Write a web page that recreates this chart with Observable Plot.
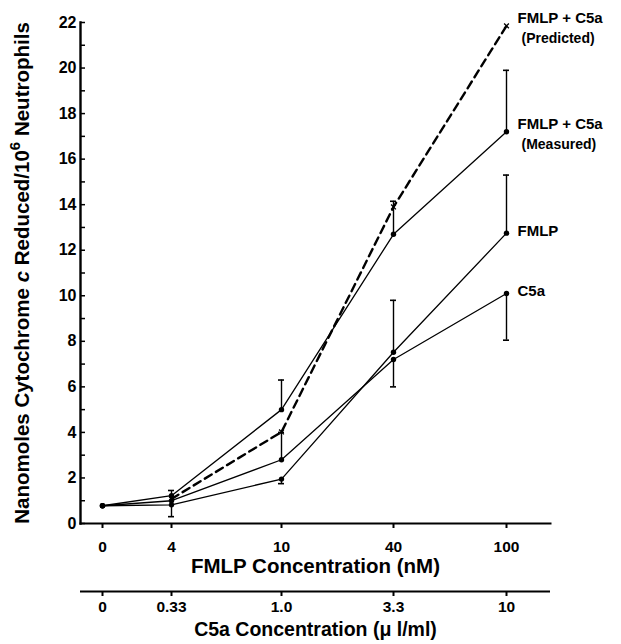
<!DOCTYPE html>
<html>
<head>
<meta charset="utf-8">
<script src="https://cdn.jsdelivr.net/npm/d3@7"></script>
<script src="https://cdn.jsdelivr.net/npm/@observablehq/plot@0.6"></script>
<style>
  body { margin: 0; background: #fff; }
  #chart svg { font-family: "Liberation Sans", Arial, Helvetica, sans-serif; }
</style>
</head>
<body>
<div id="chart"></div>
<script>
// ---- data ----
const fmlpConc = [0, 4, 10, 40, 100];
const fmlpTickLabels = ["0", "4", "10", "40", "100"];
const c5aTickLabels = ["0", "0.33", "1.0", "3.3", "10"];
const yTicks = [0, 2, 4, 6, 8, 10, 12, 14, 16, 18, 20, 22];
const yMinorTicks = [0,1,2,3,4,5,6,7,8,9,10,11,12,13,14,15,16,17,18,19,20,21,22];

const fmlpValues      = [0.78, 0.82, 1.95, 7.52, 12.75];
const c5aValues       = [0.78, 1.00, 2.80, 7.20, 10.10];
const measuredValues  = [0.78, 1.22, 5.00, 12.70, 17.20];
const predictedValues = [null, 1.08, 4.02, 13.90, 21.85];

// error-bar ends (null = none)
const fmlpErrEnd     = [null, 0.30, 1.75, 9.80, 15.30];
const c5aErrEnd      = [null, null, 4.00, 6.00, 8.05];
const measuredErrEnd = [null, 1.45, 6.30, 14.15, 19.90];

const seriesNames = ["FMLP + C5a (Predicted)", "FMLP + C5a (Measured)", "FMLP", "C5a"];
const labelMain = ["FMLP + C5a", "FMLP + C5a", "FMLP", "C5a"];
const labelSub  = ["(Predicted)", "(Measured)", "", ""];

const xTitle = "FMLP Concentration (nM)";
const x2Title = "C5a Concentration (\u03bc l/ml)";
const yTitle = "Nanomoles Cytochrome c Reduced/10^6 Neutrophils";

// ---- build tables ----
function rowsOf(name, values) {
  return fmlpConc.map((x, i) => ({series: name, x, y: values[i]})).filter(d => d.y != null);
}
const solidRows = [
  ...rowsOf(seriesNames[1], measuredValues),
  ...rowsOf(seriesNames[2], fmlpValues),
  ...rowsOf(seriesNames[3], c5aValues)
];
const predRows = rowsOf(seriesNames[0], predictedValues);

function errRows(values, ends) {
  return fmlpConc.map((x, i) => ({x, y: values[i], e: ends[i]})).filter(d => d.e != null);
}
const errors = [
  ...errRows(measuredValues, measuredErrEnd),
  ...errRows(fmlpValues, fmlpErrEnd),
  ...errRows(c5aValues, c5aErrEnd)
];

const lastIdx = fmlpConc.length - 1;
const endValues = [predictedValues[lastIdx], measuredValues[lastIdx], fmlpValues[lastIdx], c5aValues[lastIdx]];
const labelRows = seriesNames.map((s, i) => ({x: fmlpConc[lastIdx], y: endValues[i], main: labelMain[i], sub: labelSub[i], two: labelSub[i] !== ""}));

const bold = "bold";

const chart = Plot.plot({
  width: 621,
  height: 644,
  marginTop: 22,
  marginBottom: 121,
  marginLeft: 80,
  marginRight: 71,
  style: {fontFamily: "'Liberation Sans', Arial, Helvetica, sans-serif", background: "#fff", color: "#000"},
  x: {type: "linear", domain: fmlpConc, range: [102, 171, 281, 393, 506]},
  y: {domain: [0, 22]},
  marks: [
    // axes lines
    Plot.frame({anchor: "left", strokeWidth: 2.4}),
    Plot.frame({anchor: "bottom", strokeWidth: 2}),
    Plot.ruleY([0], {dy: 68, strokeWidth: 2}),
    // y axis
    Plot.axisY({ticks: yTicks, tickSize: 0, tickPadding: 4, fontSize: 16, fontWeight: bold, label: null}),
    Plot.axisY({ticks: yMinorTicks, tickSize: -5, strokeWidth: 1.5, tickFormat: () => "", label: null}),
    // x axes
    Plot.axisX({ticks: fmlpConc, tickSize: 5, tickPadding: 12, strokeWidth: 2, fontSize: 15.5, fontWeight: bold,
      tickFormat: d => fmlpTickLabels[fmlpConc.indexOf(d)], label: null}),
    Plot.axisX({ticks: fmlpConc, tickSize: 5, tickPadding: 4, dy: 68, strokeWidth: 2, fontSize: 15.5, fontWeight: bold,
      tickFormat: d => c5aTickLabels[fmlpConc.indexOf(d)], label: null}),
    Plot.text([xTitle], {frameAnchor: "bottom", dy: 49, fontSize: 20.5, fontWeight: bold, text: d => d}),
    Plot.text([x2Title], {frameAnchor: "bottom", dy: 112, fontSize: 19.5, fontWeight: bold, text: d => d}),
    Plot.text([yTitle], {frameAnchor: "left", dx: -58, rotate: -90, fontSize: 20.5, fontWeight: bold, textAnchor: "middle", text: d => d, className: "ytitle"}),
    // error bars
    Plot.ruleX(errors, {x: "x", y1: "y", y2: "e", strokeWidth: 1.4}),
    Plot.ruleY(errors, {y: "e", x1: "x", x2: "x", insetLeft: -3, insetRight: -3, strokeWidth: 1.6}),
    // lines
    Plot.line(solidRows, {x: "x", y: "y", z: "series", stroke: "#000", strokeWidth: 1.3}),
    Plot.line(predRows, {x: "x", y: "y", stroke: "#000", strokeWidth: 2.4, strokeDasharray: "8,5"}),
    // points
    Plot.dot(solidRows, {x: "x", y: "y", r: 2.7, fill: "#000"}),
    Plot.dot(predRows, {x: "x", y: "y", r: 2.3, symbol: "times", stroke: "#000", strokeWidth: 1.3}),
    // series labels
    Plot.text(labelRows.filter(d => !d.two), {x: "x", y: "y", text: "main", dx: 11, dy: -2, textAnchor: "start", fontSize: 15, fontWeight: bold}),
    Plot.text(labelRows.filter(d => d.two), {x: "x", y: "y", text: "main", dx: 11, dy: -8, textAnchor: "start", fontSize: 15, fontWeight: bold}),
    Plot.text(labelRows.filter(d => d.two), {x: "x", y: "y", text: "sub", dx: 15, dy: 13, textAnchor: "start", fontSize: 14, fontWeight: bold})
  ]
});

document.getElementById("chart").appendChild(chart);

// rich formatting for the y title (italic c, superscript 6)
const yt = d3.select(chart).select(".ytitle text");
if (!yt.empty()) {
  yt.text(null);
  yt.attr("text-anchor", "middle");
  yt.append("tspan").text("Nanomoles Cytochrome ");
  yt.append("tspan").attr("font-style", "italic").text("c");
  yt.append("tspan").text(" Reduced/10");
  yt.append("tspan").attr("font-size", 15).attr("dy", -9).text("6");
  yt.append("tspan").attr("dy", 9).text(" Neutrophils");
}
</script>
</body>
</html>
